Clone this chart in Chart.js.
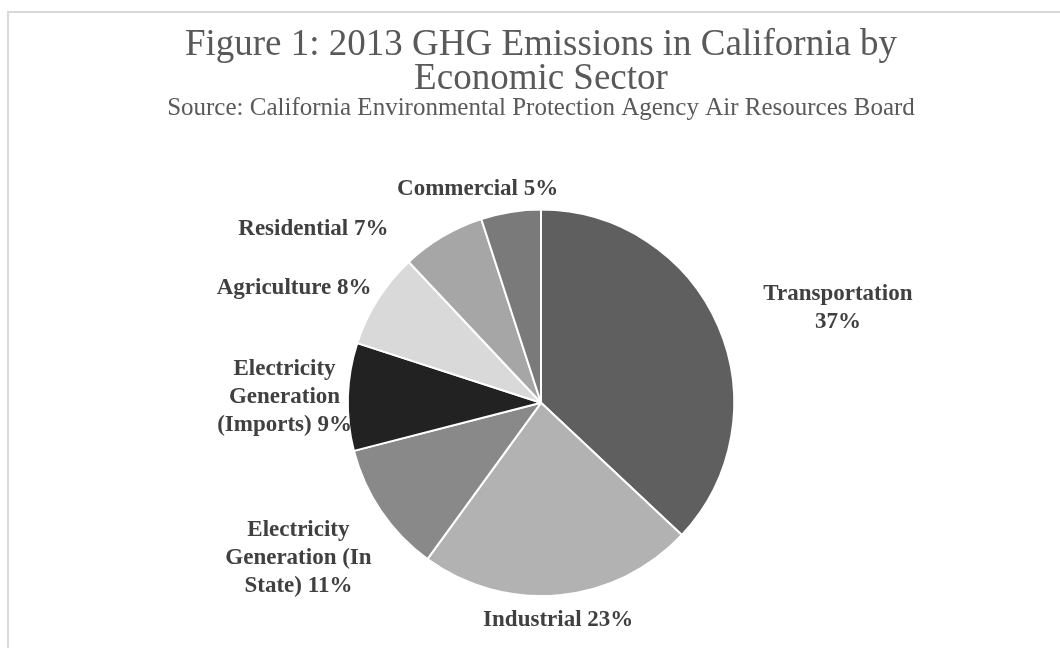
<!DOCTYPE html>
<html>
<head>
<meta charset="utf-8">
<script src="https://cdn.jsdelivr.net/npm/chart.js@4"></script>
<style>
  body { margin: 0; background: #fff; }
  #wrap { position: relative; width: 1060px; height: 648px; overflow: hidden; }
  #frame { position: absolute; left: 7px; top: 11px; width: 1080px; height: 700px; border: 2px solid #d9d9d9; }
  canvas { position: absolute; left: 0; top: 0; }
</style>
</head>
<body>
<div id="wrap">
  <div id="frame"></div>
  <canvas id="pie" width="1060" height="648"></canvas>
</div>
<script>
// dados do gráfico
const sectors = ['Transportation', 'Industrial', 'Electricity Generation (In State)',
  'Electricity Generation (Imports)', 'Agriculture', 'Residential', 'Commercial'];
const shares = [37, 23, 11, 9, 8, 7, 5];
const sliceColors = ['#5f5f5f', '#b2b2b2', '#898989', '#222222', '#d9d9d9', '#a6a6a6', '#7a7a7a'];

const titleLines = ['Figure 1: 2013 GHG Emissions in California by', 'Economic Sector'];
const sourceText = 'Source: California Environmental Protection Agency Air Resources Board';

// ajustes finos dos rótulos (dx, dy)
const labelNudge = [[42, -3], [-9, 1], [-14, 17], [14, 2], [-10, 2], [-86, 13], [-19, 1]];

function wrapText(ctx, text, maxWidth) {
  const words = text.split(' ');
  const lines = [];
  let line = '';
  for (let i = 0; i < words.length; i++) {
    const test = line ? line + ' ' + words[i] : words[i];
    if (ctx.measureText(test).width > maxWidth && line) {
      lines.push(line);
      line = words[i];
    } else {
      line = test;
    }
  }
  lines.push(line);
  return lines;
}

// plugin para desenhar os rótulos fora das fatias
const outsideLabels = {
  id: 'outsideLabels',
  afterDatasetsDraw(chart) {
    const ctx = chart.ctx;
    const meta = chart.getDatasetMeta(0);
    const lh = 28;
    ctx.save();
    ctx.font = 'bold 23px "Liberation Serif", "Times New Roman", serif';
    ctx.fillStyle = '#404040';
    ctx.textAlign = 'center';
    ctx.textBaseline = 'middle';
    meta.data.forEach((arc, i) => {
      const p = arc.getProps(['x', 'y', 'startAngle', 'endAngle', 'outerRadius'], true);
      const mid = (p.startAngle + p.endAngle) / 2;
      const ux = Math.cos(mid), uy = Math.sin(mid);
      const text = sectors[i] + ' ' + shares[i] + '%';
      const lines = wrapText(ctx, text, 170);
      const w = Math.max(...lines.map(l => ctx.measureText(l).width));
      const h = lines.length * lh;
      const r = p.outerRadius + 10;
      const cx = p.x + ux * r + ux * w / 2 + labelNudge[i][0];
      const cy = p.y + uy * r + uy * h / 2 + labelNudge[i][1];
      lines.forEach((l, k) => {
        ctx.fillText(l, cx, cy - h / 2 + lh / 2 + k * lh);
      });
    });
    ctx.restore();
  }
};

new Chart(document.getElementById('pie'), {
  type: 'pie',
  data: {
    labels: sectors,
    datasets: [{
      data: shares,
      backgroundColor: sliceColors,
      borderColor: '#ffffff',
      borderWidth: 2
    }]
  },
  options: {
    responsive: false,
    animation: false,
    layout: { padding: { left: 22, right: 0, top: 0, bottom: 51 } },
    plugins: {
      legend: { display: false },
      tooltip: { enabled: false },
      title: {
        display: true,
        text: titleLines,
        color: '#595959',
        font: { family: '"Liberation Serif", "Times New Roman", serif', size: 37, weight: 'normal', lineHeight: 0.9 },
        padding: { top: 29, bottom: 0 }
      },
      subtitle: {
        display: true,
        text: sourceText,
        color: '#595959',
        font: { family: '"Liberation Serif", "Times New Roman", serif', size: 25, weight: 'normal', lineHeight: 1.0 },
        padding: { top: 0, bottom: 88 }
      }
    }
  },
  plugins: [outsideLabels]
});
</script>
</body>
</html>
